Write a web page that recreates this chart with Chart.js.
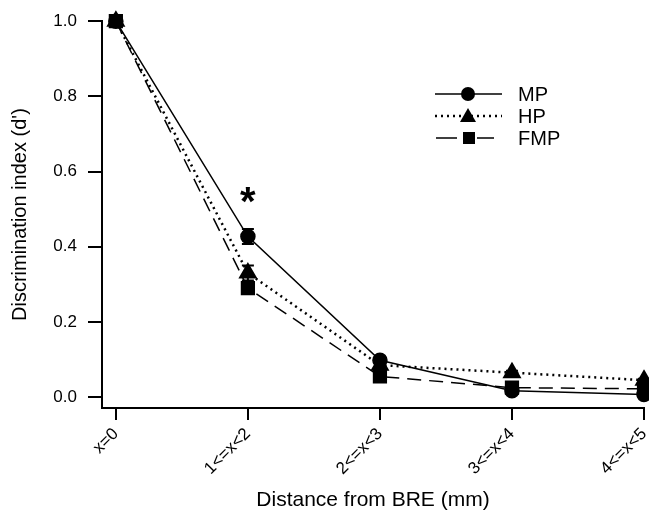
<!DOCTYPE html>
<html>
<head>
<meta charset="utf-8">
<script src="https://cdn.jsdelivr.net/npm/chart.js@4/dist/chart.umd.min.js"></script>
<style>
  html, body { margin: 0; padding: 0; background: #fff; }
  #wrap { width: 649px; height: 525px; }
</style>
</head>
<body>
<div id="wrap"><canvas id="dChart" width="649" height="525"></canvas></div>
<script>
// categories and values
var categories = ["x=0", "1<=x<2", "2<=x<3", "3<=x<4", "4<=x<5"];
var mpValues  = [1.0, 0.427, 0.098, 0.017, 0.007];
var hpValues  = [1.0, 0.330, 0.085, 0.065, 0.045];
var fmpValues = [1.0, 0.290, 0.055, 0.025, 0.022];
var mpErr  = [0, 0.020, 0.008, 0.004, 0.004];
var hpErr  = [0, 0.020, 0.006, 0.005, 0.004];
var fmpErr = [0, 0.015, 0.005, 0.004, 0.004];
var yTicks = [0, 0.2, 0.4, 0.6, 0.8, 1.0];
var starAt = { index: 1, value: 0.54 };

var FONT = "'Liberation Sans', Arial, sans-serif";

function points(vals) {
    return vals.map(function(v, i) { return { x: i, y: v }; });
}

// error bars + significance star
var extras = {
    id: 'extras',
    afterDatasetsDraw: function(chart) {
        var ctx = chart.ctx, xs = chart.scales.x, ys = chart.scales.y;
        var sets = [[mpValues, mpErr], [hpValues, hpErr], [fmpValues, fmpErr]];
        ctx.save();
        ctx.strokeStyle = '#000';
        ctx.lineWidth = 2;
        sets.forEach(function(s) {
            s[0].forEach(function(v, i) {
                if (!s[1][i]) return;
                var px = xs.getPixelForValue(i);
                var top = ys.getPixelForValue(v + s[1][i]);
                var bot = ys.getPixelForValue(v - s[1][i]);
                ctx.beginPath();
                ctx.moveTo(px, top); ctx.lineTo(px, bot);
                ctx.moveTo(px - 6, top); ctx.lineTo(px + 6, top);
                ctx.moveTo(px - 6, bot); ctx.lineTo(px + 6, bot);
                ctx.stroke();
            });
        });
        ctx.fillStyle = '#000';
        ctx.font = 'bold 40px ' + FONT;
        ctx.textAlign = 'center';
        ctx.textBaseline = 'middle';
        ctx.fillText('*', xs.getPixelForValue(starAt.index), ys.getPixelForValue(starAt.value) + 10);
        ctx.restore();
    }
};

// legend drawn as line + marker + name
var legendBox = {
    id: 'legendBox',
    afterDraw: function(chart) {
        var ctx = chart.ctx;
        var rows = [
            { name: 'MP', dash: [], width: 1.5, shape: 'circle' },
            { name: 'HP', dash: [2, 4], width: 2.5, shape: 'triangle' },
            { name: 'FMP', dash: [], width: 1.5, shape: 'square' }
        ];
        ctx.save();
        rows.forEach(function(r, k) {
            var y = 94 + k * 22;
            ctx.strokeStyle = '#000';
            ctx.lineWidth = r.width;
            ctx.setLineDash(r.dash);
            ctx.beginPath();
            if (r.shape === 'square') {
                ctx.moveTo(436, y); ctx.lineTo(457, y);
                ctx.moveTo(477, y); ctx.lineTo(494, y);
            } else {
                ctx.moveTo(435, y); ctx.lineTo(502, y);
            }
            ctx.stroke();
            ctx.setLineDash([]);
            ctx.fillStyle = '#000';
            ctx.beginPath();
            if (r.shape === 'circle') {
                ctx.arc(468, y, 7, 0, Math.PI * 2);
            } else if (r.shape === 'triangle') {
                ctx.moveTo(468, y - 8); ctx.lineTo(476, y + 6); ctx.lineTo(460, y + 6); ctx.closePath();
            } else {
                ctx.rect(469 - 6, y - 6, 12, 12);
            }
            ctx.fill();
            ctx.font = '20px ' + FONT;
            ctx.textAlign = 'left';
            ctx.textBaseline = 'middle';
            ctx.fillText(r.name, 518, y + 1);
        });
        ctx.restore();
    }
};

var ctx = document.getElementById('dChart').getContext('2d');
var dChart = new Chart(ctx, {
    type: 'line',
    data: {
        datasets: [
            {
                label: 'FMP', data: points(fmpValues),
                borderColor: '#000', backgroundColor: '#000', borderWidth: 1.5,
                borderDash: [14, 8], pointStyle: 'rect', pointRadius: 9, tension: 0
            },
            {
                label: 'HP', data: points(hpValues),
                borderColor: '#000', backgroundColor: '#000', borderWidth: 2.5,
                borderDash: [2, 4], pointStyle: 'triangle', pointRadius: 8.5, tension: 0
            },
            {
                label: 'MP', data: points(mpValues),
                borderColor: '#000', backgroundColor: '#000', borderWidth: 1.5,
                pointStyle: 'circle', pointRadius: 7, tension: 0
            }
        ]
    },
    options: {
        responsive: false,
        animation: false,
        clip: false,
        layout: { autoPadding: false, padding: { top: 19, right: 5, left: 0, bottom: 12 } },
        plugins: { legend: { display: false }, tooltip: { enabled: false } },
        scales: {
            x: {
                type: 'linear',
                min: -0.105, max: 4,
                afterBuildTicks: function(scale) {
                    scale.ticks = categories.map(function(c, i) { return { value: i }; });
                },
                afterFit: function(scale) {
                    scale.height = 105;
                    scale.paddingLeft = 0;
                    scale.paddingRight = 0;
                },
                ticks: {
                    color: '#000', font: { family: FONT, size: 17 },
                    minRotation: 45, maxRotation: 45, padding: 4,
                    callback: function(v) { return categories[v]; }
                },
                grid: { drawOnChartArea: false, drawTicks: true, tickLength: 12, color: '#000', lineWidth: 2 },
                border: { display: true, color: '#000', width: 2 },
                title: { display: true, text: 'Distance from BRE (mm)', color: '#000', font: { family: FONT, size: 21 }, padding: 0 }
            },
            y: {
                min: -0.029, max: 1.0,
                afterBuildTicks: function(scale) {
                    scale.ticks = yTicks.map(function(v) { return { value: v }; });
                },
                afterFit: function(scale) { scale.width = 102; },
                ticks: {
                    color: '#000', font: { family: FONT, size: 17 }, padding: 11,
                    callback: function(v) { return v.toFixed(1); }
                },
                grid: { drawOnChartArea: false, drawTicks: true, tickLength: 14, color: '#000', lineWidth: 2 },
                border: { display: true, color: '#000', width: 2 },
                title: { display: true, text: "Discrimination index (d')", color: '#000', font: { family: FONT, size: 20 }, padding: { top: 8, bottom: 4 } }
            }
        }
    },
    plugins: [extras, legendBox]
});
</script>
</body>
</html>
